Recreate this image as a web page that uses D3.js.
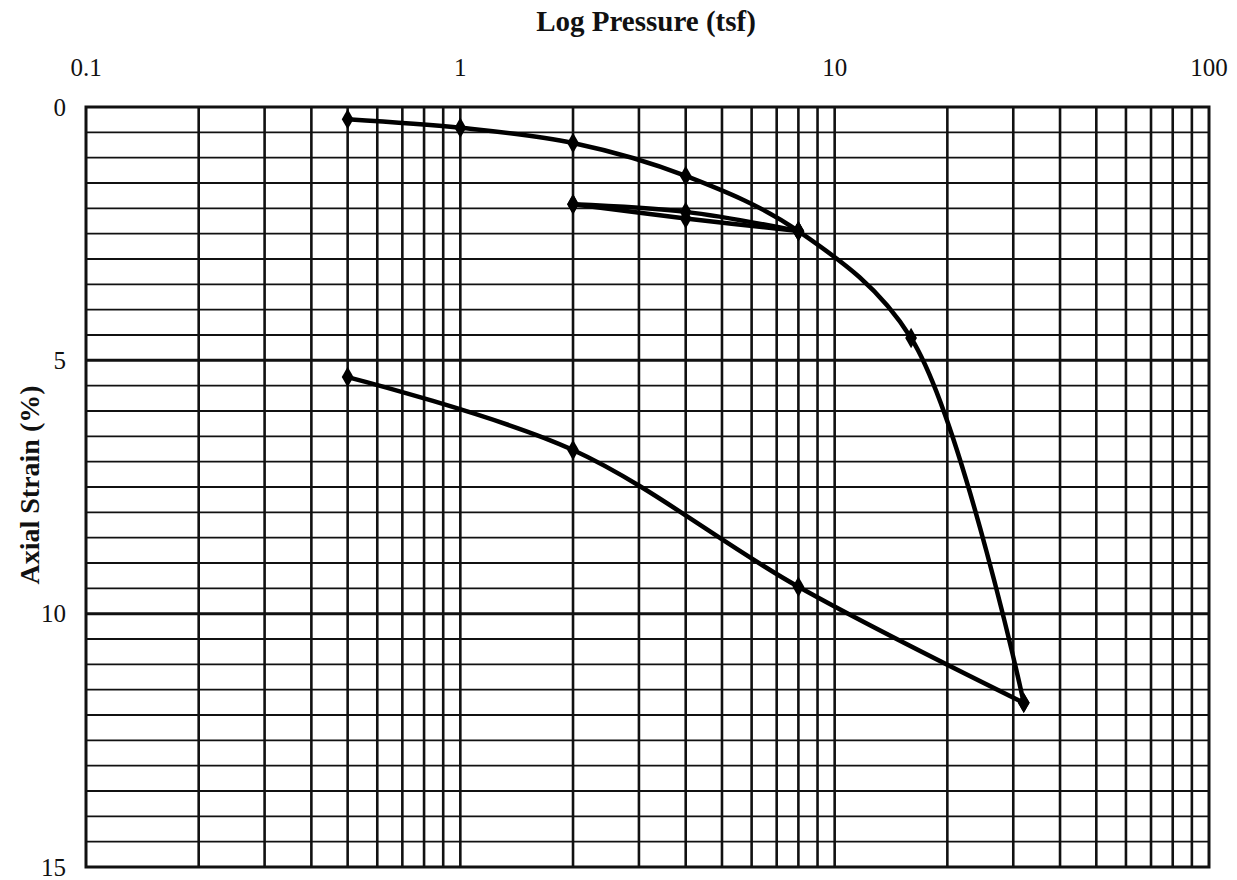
<!DOCTYPE html>
<html>
<head>
<meta charset="utf-8">
<script src="https://cdn.jsdelivr.net/npm/d3@7"></script>
<style>
  html, body { margin: 0; padding: 0; background: #fff; }
  svg text { font-family: "Liberation Serif", "DejaVu Serif", serif; fill: #111; }
</style>
</head>
<body>
<svg id="chart" width="1237" height="880"></svg>
<script>
// ---- data ----
const xTickLabels = ["0.1", "1", "10", "100"];
const xTickValues = [0.1, 1, 10, 100];
const yTickValues = [0, 5, 10, 15];

// loading curve
const loadPressure = [0.5, 1, 2, 4, 8, 16, 32];
const loadStrain   = [0.24, 0.41, 0.71, 1.36, 2.45, 4.56, 11.76];
// unload loop 8 -> 2
const unloadPressure1 = [8, 4, 2];
const unloadStrain1   = [2.45, 2.07, 1.92];
// reload 2 -> 8
const reloadPressure1 = [2, 4, 8];
const reloadStrain1   = [1.92, 2.2, 2.45];
// final unload 32 -> 0.5
const unloadPressure2 = [32, 8, 2, 0.5];
const unloadStrain2   = [11.76, 9.47, 6.77, 5.33];

// ---- layout ----
const svg = d3.select("#chart");
const pLeft = 86, pRight = 1209, pTop = 107, pBottom = 867;

const x = d3.scaleLog().domain([0.1, 100]).range([pLeft, pRight]);
const y = d3.scaleLinear().domain([0, 15]).range([pTop, pBottom]);

// background grid
const g = svg.append("g");
const minorX = [];
[0.1, 1, 10].forEach(d => { for (let k = 2; k <= 9; k++) minorX.push(d * k); });
g.selectAll("line.vx").data(minorX.concat([1, 10])).enter().append("line")
  .attr("x1", d => x(d)).attr("x2", d => x(d))
  .attr("y1", pTop).attr("y2", pBottom)
  .attr("stroke", "#111").attr("stroke-width", 2.6);

const hVals = d3.range(0.5, 15, 0.5);
g.selectAll("line.hy").data(hVals).enter().append("line")
  .attr("x1", pLeft).attr("x2", pRight)
  .attr("y1", d => y(d)).attr("y2", d => y(d))
  .attr("stroke", "#111")
  .attr("stroke-width", d => (d % 5 === 0) ? 3 : 1.8);

// frame
g.append("rect").attr("x", pLeft).attr("y", pTop)
  .attr("width", pRight - pLeft).attr("height", pBottom - pTop)
  .attr("fill", "none").attr("stroke", "#111").attr("stroke-width", 3);

// axes labels (top x)
svg.selectAll("text.xt").data(xTickValues).enter().append("text")
  .attr("x", d => x(d)).attr("y", 76)
  .attr("text-anchor", "middle").attr("font-size", 25)
  .text((d, i) => xTickLabels[i]);

svg.selectAll("text.yt").data(yTickValues).enter().append("text")
  .attr("x", 66).attr("y", d => y(d)).attr("dy", "0.35em")
  .attr("text-anchor", "end").attr("font-size", 25)
  .text(d => d);

svg.append("text").attr("x", 646).attr("y", 31)
  .attr("text-anchor", "middle").attr("font-size", 29).attr("font-weight", "bold")
  .text("Log Pressure (tsf)");

svg.append("text")
  .attr("transform", "translate(39,485) rotate(-90)")
  .attr("text-anchor", "middle").attr("font-size", 28).attr("font-weight", "bold")
  .text("Axial Strain (%)");

// curves
const zipPts = (px, py) => px.map((p, i) => [p, py[i]]);
const line = d3.line().x(d => x(d[0])).y(d => y(d[1])).curve(d3.curveCatmullRom.alpha(0.5));
const segments = [
  zipPts(loadPressure, loadStrain),
  zipPts(unloadPressure1, unloadStrain1),
  zipPts(reloadPressure1, reloadStrain1),
  zipPts(unloadPressure2, unloadStrain2)
];
const cg = svg.append("g");
segments.forEach(seg => {
  cg.append("path").attr("d", line(seg))
    .attr("fill", "none").attr("stroke", "#000").attr("stroke-width", 4.5)
    .attr("stroke-linejoin", "round");
});

// markers
const sym = d3.symbol().type(d3.symbolDiamond).size(120);
segments.forEach(seg => {
  cg.selectAll(null).data(seg).enter().append("path")
    .attr("d", sym)
    .attr("transform", d => `translate(${x(d[0])},${y(d[1])})`)
    .attr("fill", "#000");
});
</script>
</body>
</html>
